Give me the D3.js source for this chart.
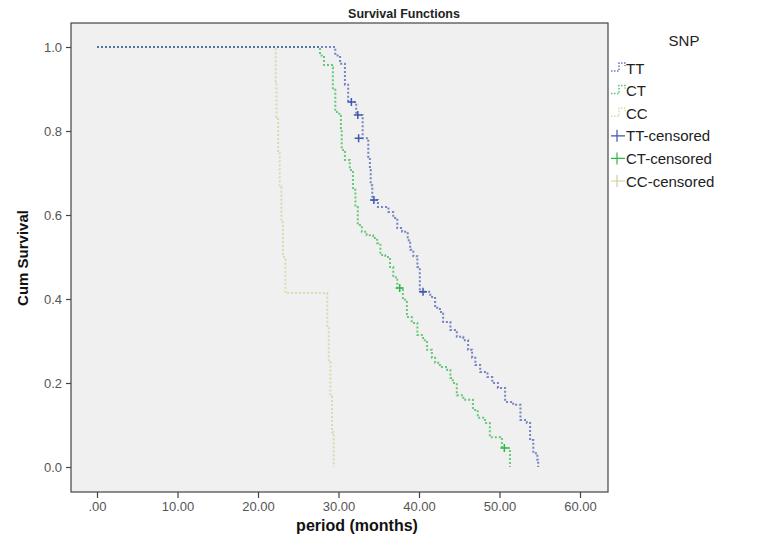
<!DOCTYPE html>
<html>
<head>
<meta charset="utf-8">
<script src="https://cdn.jsdelivr.net/npm/d3@7"></script>
<style>
  body { margin: 0; background: #fff; }
  svg { display: block; font-family: "Liberation Sans", Arial, sans-serif; }
</style>
</head>
<body>
<svg width="761" height="544"></svg>
<script>
// Kaplan-Meier steps: time of drop (months) and survival after it
const ttTime = [0, 29.6, 30.2, 30.8, 31.2, 32.2, 33.0, 33.7, 33.9, 34.0, 34.2, 34.9, 36.2, 36.8, 37.3, 37.9, 38.6, 38.9, 39.3, 39.8, 40.1,
  41.4, 42.0, 42.6, 43.0, 43.9, 44.7, 45.5, 46.1, 46.6, 47.0, 47.6, 48.5, 49.1, 49.8, 50.7, 51.7, 52.6, 53.4, 53.8, 54.2, 54.7, 54.8];
const ttSurv = [1, 0.98, 0.96, 0.91, 0.869, 0.838, 0.783, 0.738, 0.707, 0.671, 0.636, 0.619, 0.607, 0.593, 0.569, 0.560, 0.540, 0.517, 0.502, 0.476, 0.417,
  0.405, 0.379, 0.369, 0.345, 0.326, 0.310, 0.302, 0.279, 0.260, 0.243, 0.226, 0.214, 0.200, 0.188, 0.155, 0.148, 0.112, 0.105, 0.064, 0.033, 0.017, 0];

const ctTime = [0, 27.7, 28.2, 29.2, 29.3, 29.6, 30.1, 30.3, 30.4, 30.8, 31.4, 31.8, 32.1, 32.4, 32.9, 33.5, 34.3, 34.8, 35.2, 35.8, 36.4, 36.8, 37.3,
  38.0, 38.5, 39.1, 39.8, 40.5, 41.0, 41.6, 42.0, 42.6, 43.5, 43.9, 44.2, 44.7, 45.5, 46.7, 47.3, 48.2, 48.8, 50.1, 50.3, 51.3];
const ctSurv = [1, 0.98, 0.957, 0.952, 0.898, 0.845, 0.838, 0.802, 0.755, 0.731, 0.707, 0.660, 0.619, 0.576, 0.560, 0.552, 0.545, 0.533, 0.505, 0.500, 0.476, 0.452, 0.426,
  0.398, 0.357, 0.343, 0.314, 0.302, 0.279, 0.260, 0.248, 0.238, 0.231, 0.212, 0.200, 0.171, 0.160, 0.136, 0.117, 0.105, 0.071, 0.069, 0.045, 0];

const ccTime = [0, 22.2, 22.3, 22.5, 22.7, 22.9, 23.1, 23.4, 28.6, 28.8, 29.0, 29.2, 29.4];
const ccSurv = [1, 0.917, 0.833, 0.75, 0.667, 0.583, 0.5, 0.414, 0.333, 0.25, 0.167, 0.083, 0];

// censored observations
const ttCensorTime = [31.6, 32.4, 32.5, 34.4, 40.5];
const ttCensorSurv = [0.869, 0.838, 0.783, 0.636, 0.417];
const ctCensorTime = [37.6, 50.6];
const ctCensorSurv = [0.426, 0.045];

const xTicks = [0, 10, 20, 30, 40, 50, 60];
const yTicks = [0, 0.2, 0.4, 0.6, 0.8, 1.0];

const groups = ["TT", "CT", "CC"];
const colors = { TT: "#3e58ac", CT: "#2eb848", CC: "#d3ce97" };

const svg = d3.select("svg");

const x = d3.scaleLinear().domain([0, 60]).range([97, 580]);
const y = d3.scaleLinear().domain([0, 1]).range([467, 47]);

const frame = { left: 71, top: 23, right: 608, bottom: 492 };

// plot panel
svg.append("rect")
    .attr("x", frame.left).attr("y", frame.top)
    .attr("width", frame.right - frame.left)
    .attr("height", frame.bottom - frame.top)
    .attr("fill", "#f0f0f0")
    .attr("stroke", "#444")
    .attr("stroke-width", 1.2);

// title
svg.append("text")
    .attr("x", 404).attr("y", 18)
    .attr("text-anchor", "middle")
    .attr("font-size", 12.5)
    .attr("font-weight", "bold")
    .attr("fill", "#222")
    .text("Survival Functions");

// axes
const xAxis = svg.append("g")
    .attr("transform", `translate(0,${frame.bottom})`)
    .call(d3.axisBottom(x).tickValues(xTicks).tickSize(6).tickPadding(4)
        .tickFormat(d => d === 0 ? ".00" : d3.format(".2f")(d)));

const yAxis = svg.append("g")
    .attr("transform", `translate(${frame.left},0)`)
    .call(d3.axisLeft(y).tickValues(yTicks).tickSize(5).tickPadding(4)
        .tickFormat(d3.format(".1f")));

[xAxis, yAxis].forEach(g => {
    g.select(".domain").remove();
    g.selectAll(".tick line").attr("stroke", "#444").attr("stroke-width", 1.2);
    g.selectAll(".tick text")
        .attr("fill", "#555")
        .attr("font-size", 13)
        .attr("font-family", "Liberation Sans, Arial, sans-serif");
});

svg.append("text")
    .attr("x", 357).attr("y", 531)
    .attr("text-anchor", "middle")
    .attr("font-size", 16)
    .attr("font-weight", "bold")
    .attr("fill", "#111")
    .text("period (months)");

svg.append("text")
    .attr("transform", "translate(28,258) rotate(-90)")
    .attr("text-anchor", "middle")
    .attr("font-size", 15)
    .attr("font-weight", "bold")
    .attr("fill", "#111")
    .text("Cum Survival");

// survival curves
const line = d3.line()
    .x(d => x(d[0]))
    .y(d => y(d[1]))
    .curve(d3.curveStepAfter);

const curves = {
    TT: d3.zip(ttTime, ttSurv),
    CT: d3.zip(ctTime, ctSurv),
    CC: d3.zip(ccTime, ccSurv)
};

["CC", "CT", "TT"].forEach(g => {
    svg.append("path")
        .datum(curves[g])
        .attr("d", line)
        .attr("fill", "none")
        .attr("stroke", colors[g])
        .attr("stroke-width", 2)
        .attr("stroke-dasharray", "2,2")
        .attr("opacity", 0.7);
});

// censor marks
const censors = [
    { g: "TT", pts: d3.zip(ttCensorTime, ttCensorSurv) },
    { g: "CT", pts: d3.zip(ctCensorTime, ctCensorSurv) }
];
censors.forEach(c => {
    svg.append("g").selectAll("path")
        .data(c.pts)
        .join("path")
        .attr("d", d => `M${x(d[0]) - 4},${y(d[1])}h8M${x(d[0])},${y(d[1]) - 4}v8`)
        .attr("stroke", colors[c.g])
        .attr("stroke-width", 1.5);
});

// legend
const legend = svg.append("g").attr("font-size", 15).attr("fill", "#222");

legend.append("text")
    .attr("x", 684).attr("y", 46)
    .attr("text-anchor", "middle")
    .text("SNP");

const rowY = d3.scaleLinear().domain([0, 5]).range([68, 181]);

groups.forEach((g, i) => {
    const cy = rowY(i);
    legend.append("path")
        .attr("d", `M611,${cy + 3}h8v-8h6v3`)
        .attr("fill", "none")
        .attr("stroke", colors[g])
        .attr("stroke-width", 1.5)
        .attr("stroke-dasharray", "1.5,1.5")
        .attr("opacity", 0.8);
    legend.append("text")
        .attr("x", 626).attr("y", cy + 5.5)
        .text(g);
});

groups.forEach((g, i) => {
    const cy = rowY(i + 3);
    legend.append("path")
        .attr("d", `M611,${cy}h14M617,${cy - 6}v12`)
        .attr("stroke", colors[g])
        .attr("stroke-width", 1.2);
    legend.append("text")
        .attr("x", 626).attr("y", cy + 5.5)
        .text(g + "-censored");
});
</script>
</body>
</html>
